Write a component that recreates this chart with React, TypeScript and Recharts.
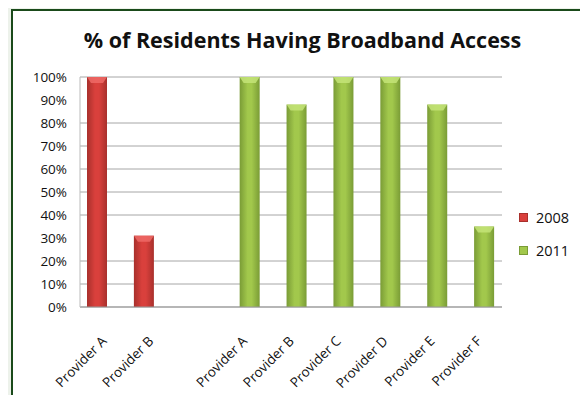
import React from "react";
import { Bar, BarChart, CartesianGrid, Legend, XAxis, YAxis } from "recharts";

const categories = ["Provider A", "Provider B", "", "Provider A", "Provider B", "Provider C", "Provider D", "Provider E", "Provider F"];
const values2008 = [100, 31, null, null, null, null, null, null, null];
const values2011 = [null, null, null, 100, 88, 100, 100, 88, 35];
const yTicks = [0, 10, 20, 30, 40, 50, 60, 70, 80, 90, 100];

const data = categories.map((name, i) => ({ name, y2008: values2008[i], y2011: values2011[i] }));

const FONT = "'Open Sans', sans-serif";

const SERIES = [
  { key: "y2008", label: "2008", grad: "gradRed", edge: "#A8302C", light: "#EE6A66", mid: "#D9403C" },
  { key: "y2011", label: "2011", grad: "gradGreen", edge: "#7A9C36", light: "#C4E478", mid: "#A2C84C" },
];

function BevelBar(props: any) {
  const { x, y, width, height, fill, light } = props;
  if (!height || height <= 0) return <g />;
  const b = Math.min(6, height);
  return (
    <g>
      <rect x={x} y={y} width={width} height={height} fill={fill} />
      <polygon
        points={`${x},${y} ${x + width},${y} ${x + width - 4},${y + b} ${x + 4},${y + b}`}
        fill={light}
        opacity={0.85}
      />
    </g>
  );
}

function XTick(props: any) {
  const { x, y, payload } = props;
  const label = categories[payload.index] ?? "";
  return (
    <text
      x={x + 4}
      y={y + 27}
      transform={`rotate(-45, ${x + 4}, ${y + 27})`}
      textAnchor="end"
      fontFamily={FONT}
      fontSize={13.5}
      fill="#111"
    >
      {label}
    </text>
  );
}

function LegendBox() {
  return (
    <div style={{ fontFamily: FONT, fontSize: 14.5, color: "#111" }}>
      {SERIES.map((s, i) => (
        <div key={s.key} style={{ position: "absolute", left: 0, top: i * 33, height: 20, display: "flex", alignItems: "center" }}>
          <span style={{ display: "inline-block", width: 7, height: 7, background: s.mid, border: `1px solid ${s.edge}`, marginRight: 8 }} />
          <span>{s.label}</span>
        </div>
      ))}
    </div>
  );
}

export default function App() {
  return (
    <div style={{ position: "relative", width: 588, height: 403, margin: -8, overflow: "hidden", background: "#EDF2EB" }}>
      <div style={{ position: "absolute", left: 11, top: 9, width: 600, height: 420, background: "#fff", border: "2px solid #1A4A1A" }} />
      <div
        style={{
          position: "absolute",
          left: 0,
          top: 29,
          width: 605,
          textAlign: "center",
          fontFamily: FONT,
          fontWeight: 700,
          fontSize: 21.5,
          lineHeight: 1,
          color: "#111",
        }}
      >
        % of Residents Having Broadband Access
      </div>
      <div style={{ position: "absolute", left: 0, top: 0 }}>
        <BarChart width={588} height={403} data={data} margin={{ top: 77, right: 86, left: 0, bottom: 0 }} barSize={20} barGap={-8}>
          <defs>
            {SERIES.map((s) => (
              <linearGradient key={s.grad} id={s.grad} x1="0" y1="0" x2="1" y2="0">
                <stop offset="0%" stopColor={s.edge} />
                <stop offset="40%" stopColor={s.mid} />
                <stop offset="60%" stopColor={s.mid} />
                <stop offset="100%" stopColor={s.edge} />
              </linearGradient>
            ))}
          </defs>
          <CartesianGrid vertical={false} stroke="#A6A6A6" />
          <XAxis dataKey="name" interval={0} height={96} tickLine={false} axisLine={{ stroke: "#999" }} tick={<XTick />} />
          <YAxis
            width={80}
            domain={[0, 100]}
            ticks={yTicks}
            tickFormatter={(v) => `${v}%`}
            tickLine={false}
            tickMargin={7}
            axisLine={{ stroke: "#BBB" }}
            tick={{ fontFamily: FONT, fontSize: 13.5, fill: "#111" }}
          />
          <Legend
            layout="vertical"
            verticalAlign="middle"
            align="center"
            wrapperStyle={{ left: 519, top: 207, width: 69, height: 60 }}
            content={() => <LegendBox />}
          />
          {SERIES.map((s) => (
            <Bar
              key={s.key}
              dataKey={s.key}
              name={s.label}
              fill={`url(#${s.grad})`}
              isAnimationActive={false}
              shape={(p: any) => <BevelBar {...p} light={s.light} />}
            />
          ))}
        </BarChart>
      </div>
    </div>
  );
}
